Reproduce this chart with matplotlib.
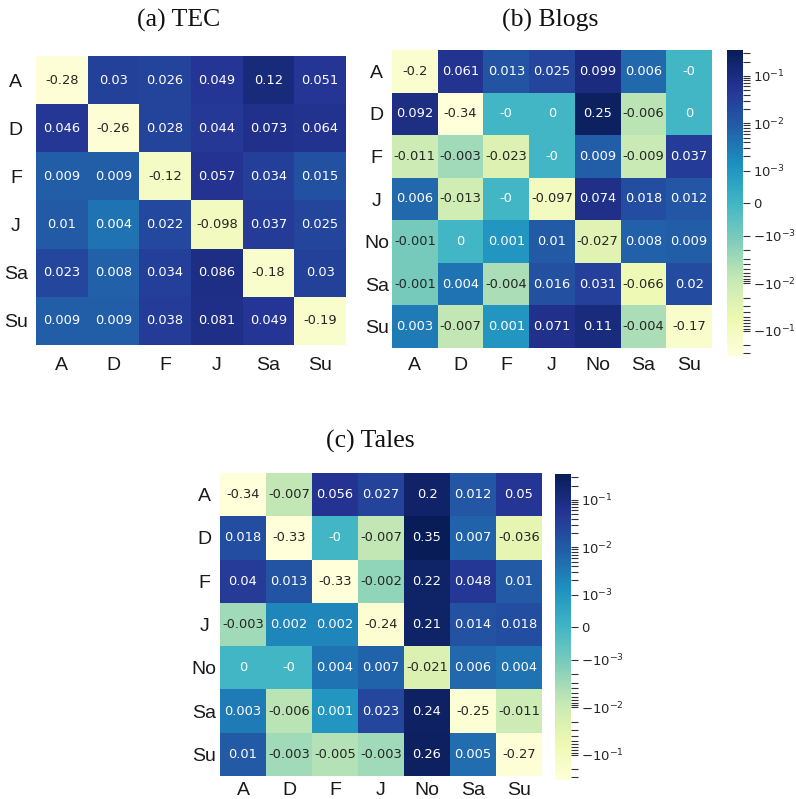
import numpy as np
import matplotlib
matplotlib.use("Agg")
import matplotlib.pyplot as plt
from matplotlib.colors import SymLogNorm, to_rgba
from matplotlib.ticker import FixedLocator

# ---------------- data ----------------
tec_labels = ["A", "D", "F", "J", "Sa", "Su"]
tec_values = [
    [-0.28, 0.03, 0.026, 0.049, 0.12, 0.051],
    [0.046, -0.26, 0.028, 0.044, 0.073, 0.064],
    [0.009, 0.009, -0.12, 0.057, 0.034, 0.015],
    [0.01, 0.004, 0.022, -0.098, 0.037, 0.025],
    [0.023, 0.008, 0.034, 0.086, -0.18, 0.03],
    [0.009, 0.009, 0.038, 0.081, 0.049, -0.19],
]

blogs_labels = ["A", "D", "F", "J", "No", "Sa", "Su"]
blogs_values = [
    [-0.2, 0.061, 0.013, 0.025, 0.099, 0.006, -0.0],
    [0.092, -0.34, -0.0, 0.0, 0.25, -0.006, 0.0],
    [-0.011, -0.003, -0.023, -0.0, 0.009, -0.009, 0.037],
    [0.006, -0.013, -0.0, -0.097, 0.074, 0.018, 0.012],
    [-0.001, 0.0, 0.001, 0.01, -0.027, 0.008, 0.009],
    [-0.001, 0.004, -0.004, 0.016, 0.031, -0.066, 0.02],
    [0.003, -0.007, 0.001, 0.071, 0.11, -0.004, -0.17],
]

tales_labels = ["A", "D", "F", "J", "No", "Sa", "Su"]
tales_values = [
    [-0.34, -0.007, 0.056, 0.027, 0.2, 0.012, 0.05],
    [0.018, -0.33, -0.0, -0.007, 0.35, 0.007, -0.036],
    [0.04, 0.013, -0.33, -0.002, 0.22, 0.048, 0.01],
    [-0.003, 0.002, 0.002, -0.24, 0.21, 0.014, 0.018],
    [0.0, -0.0, 0.004, 0.007, -0.021, 0.006, 0.004],
    [0.003, -0.006, 0.001, 0.023, 0.24, -0.25, -0.011],
    [0.01, -0.003, -0.005, -0.003, 0.26, 0.005, -0.27],
]

titles = ["(a) TEC", "(b) Blogs", "(c) Tales"]

cbar_major = [-0.1, -0.01, -0.001, 0.0, 0.001, 0.01, 0.1]
cbar_major_labels = [r"$-10^{-1}$", r"$-10^{-2}$", r"$-10^{-3}$", "0",
                     r"$10^{-3}$", r"$10^{-2}$", r"$10^{-1}$"]

VMIN, VMAX = -0.34, 0.35
LINTHRESH = 0.001

# ---------------- layout helpers ----------------
W, H = 796, 799
fig = plt.figure(figsize=(W / 100, H / 100), dpi=100)


def rect(x0, y0, x1, y1):
    return [x0 / W, 1 - y1 / H, (x1 - x0) / W, (y1 - y0) / H]


cmap = plt.get_cmap("YlGnBu")
norm = SymLogNorm(linthresh=LINTHRESH, linscale=1.0, vmin=VMIN, vmax=VMAX, base=np.e)


def rel_lum(c):
    rgb = np.array(to_rgba(c)[:3])
    rgb = np.where(rgb <= 0.03928, rgb / 12.92, ((rgb + 0.055) / 1.055) ** 2.4)
    return rgb.dot([0.2126, 0.7152, 0.0722])


def heat(ax, labels, values, ypad, xpad):
    data = np.array(values, dtype=float)
    n = data.shape[0]
    mesh = ax.pcolormesh(data, cmap=cmap, norm=norm, edgecolors="none")
    ax.set_xlim(0, n)
    ax.set_ylim(n, 0)
    for i in range(n):
        for j in range(n):
            v = data[i, j]
            col = cmap(norm(v))
            tc = ".15" if rel_lum(col) > 0.408 else "white"
            ax.text(j + 0.5, i + 0.5, "{:g}".format(v), ha="center", va="center",
                    color=tc, fontsize=9.4, family="DejaVu Sans")
    ax.set_xticks(np.arange(n) + 0.5)
    ax.set_xticklabels(labels, family="Liberation Sans", fontsize=14, color="#1a1a1a")
    ax.set_yticks(np.arange(n) + 0.5)
    ax.set_yticklabels(labels, family="Liberation Sans", fontsize=14, color="#1a1a1a",
                       rotation=0, ha="center")
    ax.tick_params(axis="both", length=0)
    ax.tick_params(axis="y", pad=ypad)
    ax.tick_params(axis="x", pad=xpad)
    for s in ax.spines.values():
        s.set_visible(False)
    return mesh


def cbar(mesh, cax):
    cb = fig.colorbar(mesh, cax=cax)
    cb.outline.set_visible(False)
    cb.set_ticks(cbar_major, labels=cbar_major_labels)
    minors = []
    for k in (-3, -2, -1):
        for m in range(2, 10):
            v = m * 10.0 ** k
            if v <= VMAX:
                minors.append(v)
            if -v >= VMIN:
                minors.append(-v)
    cb.ax.yaxis.set_minor_locator(FixedLocator(sorted(minors)))
    cb.ax.tick_params(which="both", length=5, width=0.8, color="#333333",
                      labelsize=9.5, labelcolor="#262626", pad=2.5)
    return cb


ax1 = fig.add_axes(rect(36, 56, 346, 345))
heat(ax1, tec_labels, tec_values, ypad=14.5, xpad=8.5)

ax2 = fig.add_axes(rect(392, 50, 712, 348))
m2 = heat(ax2, blogs_labels, blogs_values, ypad=11, xpad=6.5)
cax2 = fig.add_axes(rect(727, 50, 743, 356))
cbar(m2, cax2)

ax3 = fig.add_axes(rect(220, 473, 542, 776))
m3 = heat(ax3, tales_labels, tales_values, ypad=11.4, xpad=4.5)
cax3 = fig.add_axes(rect(555, 474, 571, 780))
cbar(m3, cax3)

title_kw = dict(ha="center", va="baseline", family="Liberation Serif", fontsize=18.5,
                color="#111111")
fig.text(179 / W, 1 - 27 / H, titles[0], **title_kw)
fig.text(550 / W, 1 - 27 / H, titles[1], **title_kw)
fig.text(370 / W, 1 - 448 / H, titles[2], **title_kw)

fig.savefig("out.png", dpi=100)
